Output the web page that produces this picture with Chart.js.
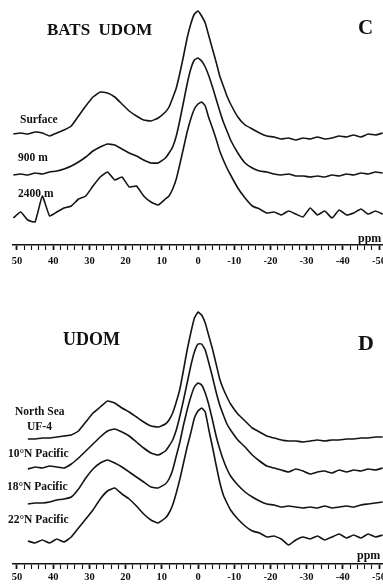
<!DOCTYPE html>
<html>
<head>
<meta charset="utf-8">
<title>UDOM 31P NMR</title>
<script src="https://cdn.jsdelivr.net/npm/chart.js@4"></script>
<style>
html,body{margin:0;padding:0;background:#fff;}
#wrap{position:relative;width:383px;height:586px;overflow:hidden;background:#fff;}
canvas{position:absolute;left:0;}
#chartC{top:0;}
#chartD{top:290px;}
.lbl{position:absolute;font-family:"Liberation Serif",serif;font-weight:bold;color:#111;white-space:nowrap;line-height:1;}
.sm{font-size:11.5px;}
</style>
</head>
<body>
<div id="wrap">
<canvas id="chartC" width="395" height="267"></canvas>
<canvas id="chartD" width="395" height="296"></canvas>

<div class="lbl" style="left:47px;top:21px;font-size:17px;word-spacing:4px;">BATS UDOM</div>
<div class="lbl" style="left:358px;top:17px;font-size:21px;">C</div>
<div class="lbl sm" style="left:20px;top:114px;">Surface</div>
<div class="lbl sm" style="left:18px;top:152px;">900 m</div>
<div class="lbl sm" style="left:18px;top:188px;">2400 m</div>
<div class="lbl" style="left:358px;top:232px;font-size:12px;">ppm</div>

<div class="lbl" style="left:63px;top:330px;font-size:18px;">UDOM</div>
<div class="lbl" style="left:358px;top:332px;font-size:22px;">D</div>
<div class="lbl sm" style="left:15px;top:406px;">North Sea</div>
<div class="lbl sm" style="left:27px;top:421px;">UF-4</div>
<div class="lbl sm" style="left:8px;top:448px;">10°N Pacific</div>
<div class="lbl sm" style="left:7px;top:481px;">18°N Pacific</div>
<div class="lbl sm" style="left:8px;top:514px;">22°N Pacific</div>
<div class="lbl" style="left:357px;top:549px;font-size:12px;">ppm</div>
</div>

<script>
// chemical shift (ppm), shared by every spectrum
const ppm = [51,49,47,45,43,41,39,37,35,33,31,29,27,25,23,21,19,17,15,13,11,9,
    8,7,6,5,4,3,2,1,0,-1,-2,-3,-4,-5,-6,-7,-8,
    -9,-11,-13,-15,-17,-19,-21,-23,-25,-27,-29,-31,-33,-35,-37,-39,-41,-43,-45,-47,-49,-51];

// panel C - BATS UDOM depth profile (stacked intensity, arbitrary units)
const surface = [111,112,111,113,112,109,112,115,119,129,139,148,153,152,148,141,134,129,125,124,127,133,
    138,147,157,172,189,207,221,231,234,229,222,209,196,183,169,159,149,
    141,128,120,116,112,109,108,106,107,105,107,106,108,106,107,109,108,110,108,111,110,112];
const m900 = [70,71,70,72,71,73,74,76,79,83,88,94,98,101,100,96,92,89,85,82,82,87,
    92,98,109,125,143,161,176,185,187,184,178,169,158,146,134,123,114,
    105,92,82,77,74,73,71,70,71,69,69,68,69,68,70,69,71,70,72,71,73,72];
const m2400 = [27,33,25,23,49,29,33,37,39,46,49,59,68,73,65,68,58,59,49,43,40,46,
    49,56,66,81,97,113,126,136,141,143,139,127,117,106,94,85,77,
    70,57,47,39,36,32,33,30,34,31,28,37,30,34,27,35,30,32,36,31,34,31];

// panel D - UDOM from different sites
const northSea = [null,null,125,125,126,126,127,128,129,133,142,151,157,163,161,156,152,147,142,138,137,140,
    144,151,162,175,194,214,231,246,252,249,241,228,215,200,185,175,167,
    160,150,143,136,132,128,126,124,123,123,122,123,124,123,124,124,125,125,126,126,127,127];
const pac10 = [null,null,95,97,96,98,97,96,100,106,113,120,127,133,135,132,128,122,116,111,109,113,
    118,124,134,148,164,181,198,212,220,220,214,201,187,172,159,149,140,
    134,124,117,109,103,98,96,94,92,95,93,90,92,93,91,94,92,94,93,95,94,96];
const pac18 = [null,null,60,61,61,62,64,65,67,75,86,95,101,104,101,97,92,87,82,77,76,80,
    85,94,108,122,139,154,167,177,181,179,171,159,144,128,115,104,95,
    88,79,72,67,63,60,59,57,58,57,56,57,56,58,56,57,58,57,59,60,61,62];
const pac22 = [null,null,23,21,24,21,25,22,27,36,45,54,65,73,76,70,65,58,50,44,41,46,
    51,59,71,85,101,117,131,146,153,156,152,134,117,99,82,69,61,
    54,45,38,33,31,27,28,25,19,24,27,25,28,24,27,30,26,29,26,30,27,29];

const tickLabels = [50,40,30,20,10,0,-10,-20,-30,-40,-50];

function toPoints(vals){
    return ppm.map(function(p,i){ return {x:p, y:vals[i]}; });
}

function makeChart(id, series, yMax, labelPad){
    const ctx = document.getElementById(id);
    return new Chart(ctx,{
        type:'line',
        data:{
            datasets: series.map(function(s){
                return {
                    data: toPoints(s),
                    borderColor:'#141414',
                    borderWidth:1.6,
                    pointRadius:0,
                    tension:0.12,
                    fill:false
                };
            })
        },
        options:{
            responsive:false,
            animation:false,
            events:[],
            layout:{padding:{left:13,right:12,top:0,bottom:0}},
            plugins:{legend:{display:false},tooltip:{enabled:false}},
            scales:{
                x:{
                    type:'linear',
                    reverse:true,
                    min:-51.1,
                    max:51.1,
                    afterFit:function(scale){ scale.height = 22; },
                    border:{display:true,color:'#111',width:1.6},
                    grid:{
                        drawOnChartArea:false,
                        drawTicks:true,
                        tickLength:5,
                        tickColor:'#111',
                        tickWidth:function(c){ return c.tick && c.tick.value % 10 === 0 ? 1.8 : 1.1; }
                    },
                    ticks:{
                        stepSize:2,
                        includeBounds:false,
                        autoSkip:false,
                        maxRotation:0,
                        padding:labelPad,
                        color:'#111',
                        font:{family:'Liberation Serif',weight:'bold',size:10.5},
                        callback:function(v){ return tickLabels.indexOf(v) >= 0 ? String(v) : ''; }
                    }
                },
                y:{display:false,min:0,max:yMax}
            }
        }
    });
}

makeChart('chartC',[surface,m900,m2400],245,5);
makeChart('chartD',[northSea,pac10,pac18,pac22],274,2);
</script>
</body>
</html>
